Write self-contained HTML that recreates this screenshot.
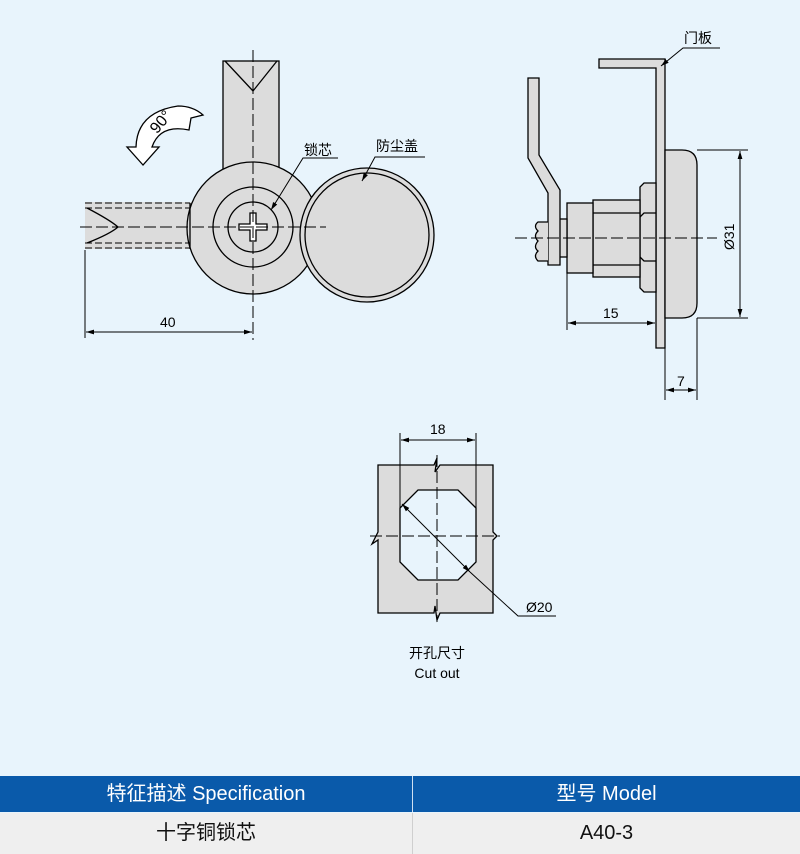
<!DOCTYPE html>
<html><head><meta charset="utf-8"><style>
body{margin:0;width:800px;height:854px;background:#e8f4fc;font-family:"Liberation Sans","Noto Sans CJK SC",sans-serif;overflow:hidden;position:relative}
svg{position:absolute;left:0;top:0}
.t{position:absolute;left:0;width:800px;display:flex}
</style></head><body>
<svg width="800" height="776" viewBox="0 0 800 776" font-family="Liberation Sans, Noto Sans CJK SC, sans-serif">
<defs><marker id="a" viewBox="0 0 10 10" refX="10" refY="5" markerWidth="8" markerHeight="8" orient="auto-start-reverse"><path d="M0,2 L10,5 L0,8 z" fill="#000"/></marker></defs>
<g stroke="#000" stroke-width="1.3" fill="#dcdcdc">
<rect x="223" y="61" width="56" height="110"/>
<path d="M225,61 L253,91 L277,61" fill="none"/>
<path d="M85,202 L190,202 Q196,202 200,192 L200,258 Q196,249 190,249 L85,249" stroke="none"/>
<circle cx="253" cy="228" r="66"/>
<line x1="190" y1="203" x2="190" y2="249"/>
<path d="M85,203 L190,203 M85,208 L190,208 M85,243 L190,243 M85,248 L190,248" stroke-dasharray="7,3" fill="none" stroke-width="1"/>
<path d="M87,208 Q110,220 118,227 Q110,234 87,243" fill="none"/>
<circle cx="253" cy="227" r="40" fill="none"/>
<circle cx="253" cy="227" r="25" fill="none"/>
<path d="M250,213 h6 v11 h11 v6 h-11 v11 h-6 v-11 h-11 v-6 h11 z" fill="#fff"/>
<circle cx="367" cy="235" r="67"/>
<circle cx="367" cy="235" r="62" fill="none"/>
<path d="M143,165 L127,147 L136,147 Q137,112 178,106 Q193,106 203,115 L191,118 L189,130 Q160,124 152,147 L159,147 Z" fill="#fff"/>
</g>
<text x="161" y="127" font-size="16" text-anchor="middle" transform="rotate(-50 161 122)">90°</text>
<g stroke="#000" stroke-width="1" fill="none">
<line x1="80" y1="227" x2="326" y2="227" stroke-dasharray="12,4"/>
<line x1="253" y1="50" x2="253" y2="340" stroke-dasharray="12,4"/>
<line x1="85" y1="250" x2="85" y2="338"/>
<line x1="86" y1="332" x2="252" y2="332" marker-start="url(#a)" marker-end="url(#a)"/>
<path d="M338,158 L303,158 L271,210" marker-end="url(#a)"/>
<path d="M425,157 L375,157 L362,181" marker-end="url(#a)"/>
</g>
<text x="160" y="327" font-size="14">40</text>
<text x="304" y="155" font-size="14">锁芯</text>
<text x="376" y="151" font-size="14">防尘盖</text>
<g stroke="#000" stroke-width="1.3" fill="#dcdcdc">
<path d="M599,59 L665,59 L665,348 L656,348 L656,68 L599,68 z"/>
<path d="M665,150 L682,150 Q697,150 697,165 L697,303 Q697,318 682,318 L665,318 z"/>
<path d="M644,183 L656,183 L656,292 L644,292 L640,288 L640,187 z"/>
<path d="M640,217 L644,213 L656,213 M640,257 L644,261 L656,261" fill="none"/>
<rect x="593" y="200" width="47" height="77"/>
<path d="M593,213 H640 M593,265 H640" fill="none"/>
<rect x="567" y="203" width="26" height="70"/>
<rect x="556" y="219" width="11" height="38"/>
<path d="M528,78 L539,78 L539,155 L560,190 L560,265 L548,265 L548,193 L528,158 z"/>
<path d="M548,222 L538,222 Q533,226 538,231 Q533,236 538,241 Q533,247 538,251 Q533,256 538,261 L548,261" />
</g>
<g stroke="#000" stroke-width="1" fill="none">
<line x1="515" y1="238" x2="717" y2="238" stroke-dasharray="12,4"/>
<path d="M720,48 L683,48 L661,66" marker-end="url(#a)"/>
<path d="M697,150 L748,150 M697,318 L748,318"/>
<line x1="740" y1="151" x2="740" y2="317" marker-start="url(#a)" marker-end="url(#a)"/>
<line x1="567" y1="273" x2="567" y2="330"/>
<line x1="568" y1="323" x2="655" y2="323" marker-start="url(#a)" marker-end="url(#a)"/>
<path d="M665,348 L665,400 M697,318 L697,400"/>
<line x1="666" y1="390" x2="696" y2="390" marker-start="url(#a)" marker-end="url(#a)"/>
</g>
<text x="684" y="43" font-size="14">门板</text>
<text x="0" y="0" font-size="14" transform="translate(734,250) rotate(-90)">Ø31</text>
<text x="603" y="318" font-size="14">15</text>
<text x="677" y="386" font-size="14">7</text>
<path d="M378,465 L434,465 L437,458 L435,472 L440,465 L493,465 L493,532 L497,536 L493,540 L493,613 L440,613 L437,620 L435,606 L434,613 L378,613 L378,540 L372,544 L378,532 z" fill="#dcdcdc" stroke="#000" stroke-width="1.3"/>
<path d="M418,490 L458,490 L476,508 L476,562 L458,580 L418,580 L400,562 L400,508 z" fill="#e8f4fc" stroke="#000" stroke-width="1.3"/>
<g stroke="#000" stroke-width="1" fill="none">
<line x1="437" y1="455" x2="437" y2="622" stroke-dasharray="12,4"/>
<line x1="370" y1="536" x2="500" y2="536" stroke-dasharray="12,4"/>
<path d="M400,433 L400,562 M476,433 L476,562"/>
<line x1="401" y1="440" x2="475" y2="440" marker-start="url(#a)" marker-end="url(#a)"/>
<line x1="402" y1="504" x2="470" y2="572" marker-start="url(#a)" marker-end="url(#a)"/>
<path d="M470,572 L518,616 L556,616"/>
</g>
<text x="430" y="434" font-size="14">18</text>
<text x="526" y="612" font-size="14">Ø20</text>
<text x="437" y="658" font-size="14" text-anchor="middle">开孔尺寸</text>
<text x="437" y="678" font-size="14" text-anchor="middle">Cut out</text>
</svg>
<div class="t" style="top:776px;height:36px;background:#0a5aaa;color:#fff;font-size:20px;line-height:36px">
<div style="width:412px;text-align:center;border-right:1px solid #cfe0f2">特征描述 Specification</div>
<div style="flex:1;text-align:center">型号 Model</div></div>
<div class="t" style="top:813px;height:41px;background:#efefef;color:#111;font-size:20px;line-height:41px">
<div style="width:412px;text-align:center;border-right:1px solid #cfcfcf">十字铜锁芯</div>
<div style="flex:1;text-align:center">A40-3</div></div>
</body></html>
